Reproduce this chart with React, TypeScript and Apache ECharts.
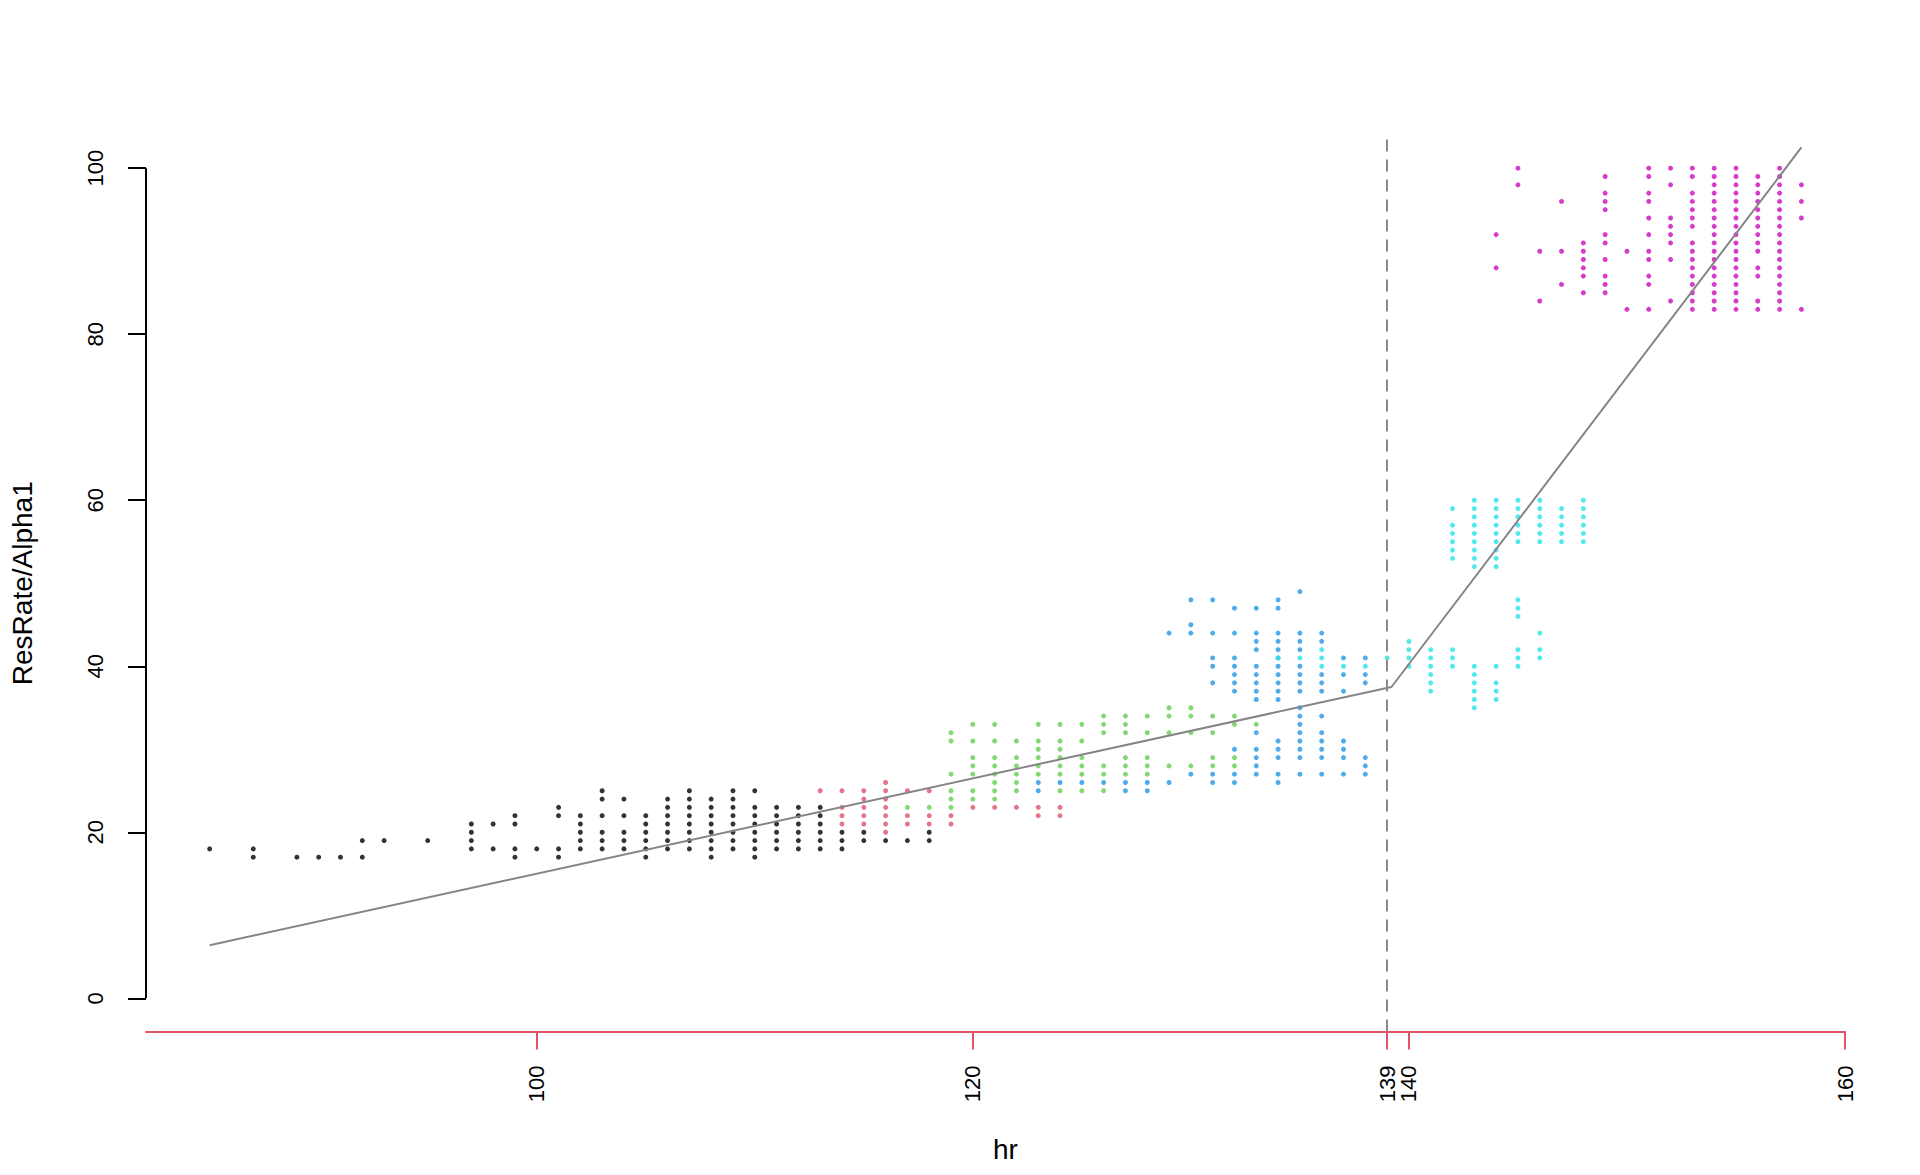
import React, { useEffect, useRef } from "react";
import * as echarts from "echarts";

// hr column -> ResRate/Alpha1 values, per colour group
const blackCols: [number, number[]][] = [
  [85, [18]], [87, [17, 18]], [89, [17]], [90, [17]], [91, [17]], [92, [17, 19]], [93, [19]], [95, [19]],
  [97, [18, 19, 20, 21]], [98, [18, 21]], [99, [17, 18, 21, 22]], [100, [18]], [101, [17, 18, 22, 23]],
  [102, [18, 19, 20, 21, 22]], [103, [18, 19, 20, 22, 24, 25]], [104, [18, 19, 20, 22, 24]],
  [105, [17, 18, 19, 20, 21, 22]], [106, [18, 19, 20, 21, 22, 23, 24]], [107, [18, 19, 20, 21, 22, 23, 24, 25]],
  [108, [17, 18, 19, 20, 21, 22, 23, 24]], [109, [18, 19, 20, 21, 22, 23, 24, 25]],
  [110, [17, 18, 19, 20, 21, 22, 23, 25]], [111, [18, 19, 20, 21, 22, 23]], [112, [18, 19, 20, 21, 22, 23]],
  [113, [18, 19, 20, 21, 22, 23]], [114, [18, 19, 20]], [115, [19, 20]], [116, [19]], [117, [19]], [118, [19, 20]],
];

const redCols: [number, number[]][] = [
  [113, [25]], [114, [21, 22, 23, 25]], [115, [21, 22, 23, 24, 25]], [116, [20, 21, 22, 23, 24, 25, 26]],
  [117, [21, 22, 25]], [118, [21, 22, 25]], [119, [21, 22]], [120, [23]], [121, [23]], [122, [23]],
  [123, [22, 23]], [124, [22, 23]],
];

const greenCols: [number, number[]][] = [
  [117, [23]], [118, [23]], [119, [23, 24, 25, 27, 31, 32]], [120, [24, 25, 27, 28, 29, 31, 33]],
  [121, [24, 25, 26, 27, 28, 29, 31, 33]], [122, [25, 26, 27, 28, 29, 31]], [123, [27, 28, 29, 30, 31, 33]],
  [124, [25, 27, 28, 29, 30, 31, 33]], [125, [25, 27, 28, 29, 31, 33]], [126, [25, 27, 28, 32, 33, 34]],
  [127, [27, 28, 29, 32, 33, 34]], [128, [27, 28, 29, 32, 34]], [129, [28, 32, 34, 35]], [130, [28, 32, 34, 35]],
  [131, [28, 29, 32, 34]], [132, [28, 29, 33, 34]], [133, [33]],
];

const blueCols: [number, number[]][] = [
  [123, [25, 26]], [124, [26]], [125, [26]], [126, [26]], [127, [25, 26]], [128, [25, 26]], [129, [26, 44]],
  [130, [27, 44, 45, 48]], [131, [26, 27, 38, 40, 41, 44, 48]], [132, [26, 27, 30, 37, 38, 39, 40, 41, 44, 47]],
  [133, [27, 28, 29, 30, 32, 36, 37, 38, 39, 40, 42, 43, 44, 47]],
  [134, [26, 27, 29, 30, 31, 36, 37, 38, 39, 40, 41, 42, 43, 44, 47, 48]],
  [135, [27, 29, 30, 31, 32, 33, 34, 35, 37, 38, 39, 40, 42, 43, 44, 49]],
  [136, [27, 29, 30, 31, 32, 34, 37, 38, 39, 43, 44]], [137, [27, 29, 30, 31, 37, 39, 41]],
  [138, [27, 28, 29, 38, 39, 41]],
];

const cyanCols: [number, number[]][] = [
  [134, [41]], [135, [41]], [136, [40, 41, 42]], [137, [40]], [138, [40]], [139, [41]], [140, [40, 41, 42, 43]],
  [141, [37, 38, 39, 40, 41, 42]], [142, [40, 41, 42, 53, 54, 55, 56, 57, 59]],
  [143, [35, 36, 37, 38, 39, 40, 52, 53, 54, 55, 56, 57, 58, 59, 60]],
  [144, [36, 37, 38, 40, 52, 53, 54, 55, 56, 57, 58, 59, 60]],
  [145, [40, 41, 42, 46, 47, 48, 55, 56, 57, 58, 59, 60]], [146, [41, 42, 44, 55, 56, 57, 58, 59, 60]],
  [147, [55, 56, 57, 58, 59]], [148, [55, 56, 57, 58, 59, 60]],
];

const magentaCols: [number, number[]][] = [
  [144, [88, 92]], [145, [98, 100]], [146, [84, 90]], [147, [86, 90, 96]], [148, [85, 87, 88, 89, 90, 91]],
  [149, [85, 86, 87, 89, 91, 92, 95, 96, 97, 99]], [150, [83, 90]],
  [151, [83, 86, 87, 89, 90, 92, 94, 96, 97, 99, 100]], [152, [84, 89, 91, 92, 93, 94, 98, 100]],
  [153, [83, 84, 85, 86, 87, 88, 89, 90, 91, 93, 94, 95, 96, 97, 99, 100]],
  [154, [83, 84, 85, 86, 87, 88, 89, 90, 91, 92, 93, 94, 95, 96, 97, 98, 99, 100]],
  [155, [83, 84, 85, 86, 87, 88, 89, 90, 91, 92, 93, 94, 95, 96, 97, 98, 99, 100]],
  [156, [83, 84, 87, 88, 90, 91, 92, 93, 94, 95, 96, 97, 98, 99]],
  [157, [83, 84, 85, 86, 87, 88, 89, 90, 91, 92, 93, 94, 95, 96, 97, 98, 99, 100]],
  [158, [83, 94, 96, 98]],
];

// segmented fit line (hr, value)
const fitLine: [number, number][] = [[85, 6.4], [139.2, 37.5], [158, 102.5]];
const breakpoint = 139;

const xTicks = [100, 120, 139, 140, 160];
const yTicks = [0, 20, 40, 60, 80, 100];

const groups = [
  { cols: blackCols, color: "#000000" },
  { cols: redCols, color: "#DF536B" },
  { cols: greenCols, color: "#61D04F" },
  { cols: blueCols, color: "#2297E6" },
  { cols: cyanCols, color: "#28E2E5" },
  { cols: magentaCols, color: "#CD0BBC" },
];

const FONT = "'Liberation Sans', Arial, Helvetica, sans-serif";

export default function App() {
  const ref = useRef<HTMLDivElement>(null);
  useEffect(() => {
    if (!ref.current) return;
    const chart = echarts.init(ref.current, undefined, { renderer: "svg" });
    const expand = (cols: [number, number[]][]) =>
      cols.flatMap(([x, vs]) => vs.map((v) => [x, v]));
    const scatterSeries = groups.map((g) => ({
      type: "scatter",
      data: expand(g.cols),
      symbol: "circle",
      symbolSize: 5,
      itemStyle: { color: g.color },
      silent: true,
    }));
    chart.setOption({
      animation: false,
      grid: { left: 136, right: 75, top: 135, bottom: 143.5, containLabel: false },
      xAxis: {
        type: "value",
        min: 82.08,
        max: 160,
        name: "hr",
        nameLocation: "middle",
        nameGap: 104,
        nameTextStyle: { fontSize: 28, color: "#000", fontFamily: FONT, padding: [0, 0, 0, 20] },
        axisLine: { show: true, onZero: false, lineStyle: { color: "#DF536B", width: 2 } },
        axisTick: { show: true, customValues: xTicks, length: 18, lineStyle: { color: "#DF536B", width: 2 } },
        axisLabel: {
          customValues: xTicks,
          rotate: 90,
          margin: 34,
          fontSize: 22,
          color: "#000",
          fontFamily: FONT,
        },
        splitLine: { show: false },
      },
      yAxis: {
        type: "value",
        min: -4,
        max: 104,
        name: "ResRate/Alpha1",
        nameLocation: "middle",
        nameRotate: 90,
        nameGap: 110,
        nameTextStyle: { fontSize: 28, color: "#000", fontFamily: FONT },
        axisLine: { show: false, onZero: false },
        axisTick: { show: true, customValues: yTicks, length: 18, lineStyle: { color: "#000", width: 2 } },
        axisLabel: {
          customValues: yTicks,
          rotate: 90,
          margin: 40,
          fontSize: 22,
          color: "#000",
          fontFamily: FONT,
        },
        splitLine: { show: false },
      },
      series: [
        ...scatterSeries,
        {
          type: "line",
          data: fitLine,
          symbol: "none",
          silent: true,
          lineStyle: { color: "#858585", width: 2 },
          markLine: {
            silent: true,
            symbol: "none",
            label: { show: false },
            lineStyle: { color: "#8a8a8a", width: 2, type: [12, 8] },
            data: [{ xAxis: breakpoint }],
          },
        },
        {
          type: "line",
          data: [[82.08, yTicks[0]], [82.08, yTicks[yTicks.length - 1]]],
          symbol: "none",
          silent: true,
          clip: false,
          lineStyle: { color: "#000", width: 2 },
        },
      ],
    });
    return () => chart.dispose();
  }, []);
  return (
    <div
      ref={ref}
      style={{ position: "absolute", left: 0, top: 0, width: 1920, height: 1175, background: "#fff" }}
    />
  );
}
